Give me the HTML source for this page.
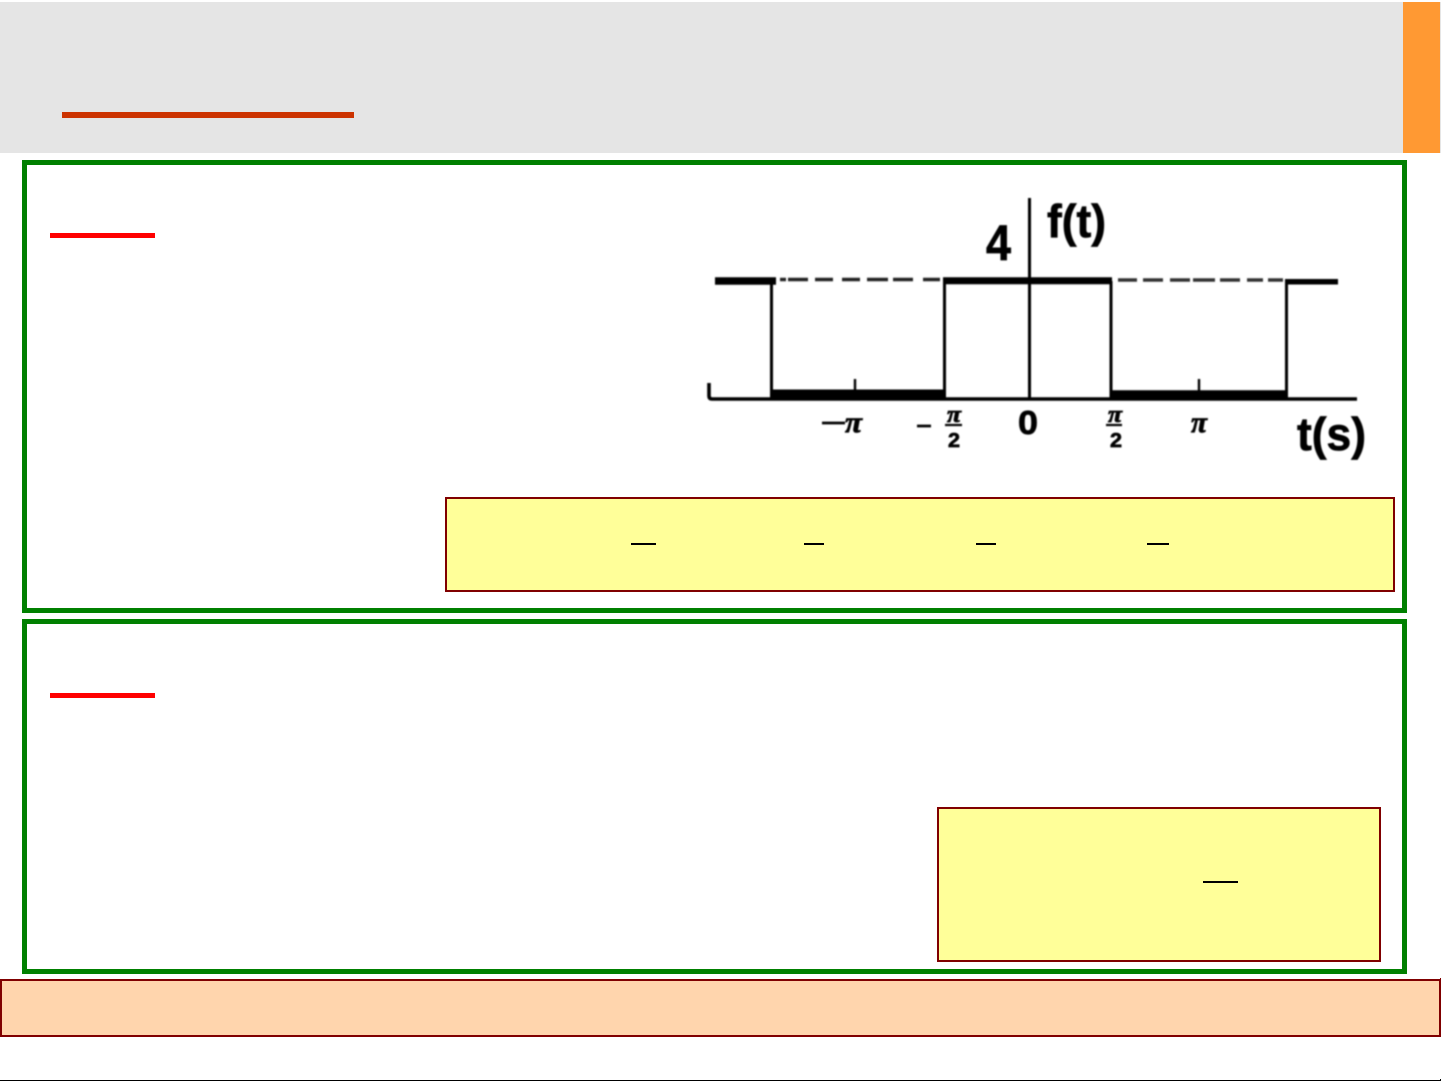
<!DOCTYPE html>
<html><head><meta charset="utf-8"><style>
html,body{margin:0;padding:0;background:#fff}
body{position:relative;width:1441px;height:1081px;overflow:hidden;font-family:"Liberation Sans",sans-serif}
div{position:absolute;box-sizing:border-box}
.g{border:5px solid #008000;background:#fff}
.y{border:2px solid #800000;background:#ffff99}
.d{background:#000;height:2px}
.r{background:#ff0000;left:50px;width:105px;height:5px}
</style></head><body>
<div style="left:0;top:2px;width:1441px;height:151px;background:#e5e5e5"></div>
<div style="left:1403px;top:2px;width:37px;height:151px;background:#ff9933"></div>
<div style="left:62px;top:112px;width:292px;height:6px;background:#cc3300"></div>

<div class="g" style="left:22px;top:160px;width:1385px;height:453px"></div>
<div class="g" style="left:22px;top:619px;width:1385px;height:355px"></div>
<div class="r" style="top:233px"></div>
<div class="r" style="top:693px"></div>

<svg style="position:absolute;left:0;top:0" width="1441" height="1081" viewBox="0 0 1441 1081">
<defs><filter id="b" x="-5%" y="-5%" width="110%" height="110%"><feGaussianBlur stdDeviation="0.7"/></filter></defs>
<g filter="url(#b)" fill="#000" stroke="none">
<g stroke="#000" fill="none">
<path d="M1029.5 198V398" stroke-width="3"/>
<path d="M715 281H776" stroke-width="7.5"/>
<path d="M943 280.7H1112" stroke-width="7"/>
<path d="M1285 281.7H1338" stroke-width="5.5"/>
<path d="M771.5 281V398M944.5 281V398M1111 281V398M1286.5 282V398" stroke-width="3"/>
<path d="M709 383V396Q709 399 712 399H1357" stroke-width="3.6"/>
<path d="M771 394.5H945" stroke-width="10"/>
<path d="M1111 394.5H1287" stroke-width="8.5"/>
<path d="M855 379V391M1199 379V391" stroke-width="2.4"/>
<path d="M780 279.5H786M788 279.5H808M815 279.5H833M842 279.5H860M867 279.5H888M893 279.5H913M923 279.5H940" stroke="#222" stroke-width="3.4"/>
<path d="M1118 280H1137M1143 280H1163M1170 280H1190M1193 280H1215M1220 280H1240M1247 280H1263M1268 280H1283" stroke="#333" stroke-width="3.4"/>
<path d="M822 423H845M917 426H931" stroke-width="2.8"/>
<path d="M945 425H962M1106 425H1122" stroke-width="2.2"/>
</g>
<g font-family="'Liberation Sans',sans-serif" font-weight="bold" stroke="#000" stroke-width="0.7">
<text x="986" y="260" font-size="50" textLength="25" lengthAdjust="spacingAndGlyphs">4</text>
<text x="1047" y="237" font-size="46" textLength="59" lengthAdjust="spacingAndGlyphs">f(t)</text>
<text x="1297" y="450" font-size="46" textLength="69" lengthAdjust="spacingAndGlyphs">t(s)</text>
<text x="1018" y="434" font-size="33" textLength="20" lengthAdjust="spacingAndGlyphs">0</text>
<text x="948" y="447" font-size="20" textLength="12" lengthAdjust="spacingAndGlyphs">2</text>
<text x="1110" y="447" font-size="20" textLength="12" lengthAdjust="spacingAndGlyphs">2</text>
</g>
<g font-family="'Liberation Serif',serif" font-weight="bold" font-style="italic" stroke="#000" stroke-width="0.8">
<text x="845" y="432" font-size="30" textLength="17" lengthAdjust="spacingAndGlyphs">π</text>
<text x="947" y="422" font-size="24" textLength="14" lengthAdjust="spacingAndGlyphs">π</text>
<text x="1108" y="422" font-size="24" textLength="14" lengthAdjust="spacingAndGlyphs">π</text>
<text x="1191" y="432" font-size="30" textLength="16" lengthAdjust="spacingAndGlyphs">π</text>
</g>
</g>
</svg>

<div class="y" style="left:445px;top:497px;width:950px;height:95px"></div>
<div class="d" style="left:631px;top:543px;width:25px"></div>
<div class="d" style="left:804px;top:543px;width:20px"></div>
<div class="d" style="left:976px;top:543px;width:20px"></div>
<div class="d" style="left:1147px;top:543px;width:22px"></div>

<div class="y" style="left:937px;top:807px;width:444px;height:155px"></div>
<div class="d" style="left:1203px;top:881px;width:35px"></div>

<div style="left:0;top:979px;width:1441px;height:58px;border:2px solid #800000;background:#ffd5ad"></div>
<div style="left:1440px;top:978px;width:1px;height:2px;background:#800000"></div>

<div style="left:0;top:1080px;width:1441px;height:1px;background:#000"></div>
<div style="left:1440px;top:1079px;width:1px;height:1px;background:#000"></div>
</body></html>
